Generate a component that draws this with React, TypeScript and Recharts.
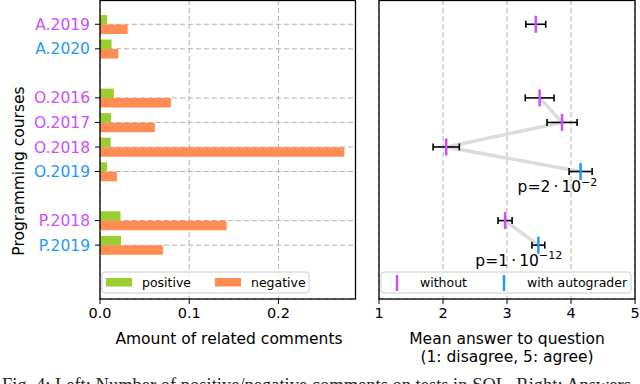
import {
  BarChart, Bar, ComposedChart, Line, ErrorBar, XAxis, YAxis, CartesianGrid
} from 'recharts'

const FONT = '"DejaVu Sans", Verdana, sans-serif'
const WITHOUT = '#cf4dff'
const WITH = '#1e98ff'
const GREEN = '#9acd32'
const ORANGE = '#ff8c52'
const GRID = '#b0b0b0'

// rows of both panels; gap rows only add space between course families
const courses = ['A.2019', 'A.2020', 'gap1', 'O.2016', 'O.2017', 'O.2018', 'O.2019', 'gap2', 'P.2018', 'P.2019']
const autograder = [false, true, null, false, false, false, true, null, false, true]
const positive = [0.008, 0.013, null, 0.0155, 0.0125, 0.012, 0.008, null, 0.023, 0.0235]
const negative = [0.031, 0.0205, null, 0.0795, 0.0615, 0.274, 0.019, null, 0.142, 0.0705]
const meanAnswer = [3.45, null, null, 3.51, 3.86, 2.05, 4.15, null, 2.97, 3.49]
const errHalf = [0.155, null, null, 0.225, 0.235, 0.205, 0.18, null, 0.11, 0.1]
const pValue = [null, null, null, null, null, null, ['2', '−2'], null, null, ['1', '−12']]
const commentTicks = [0, 0.1, 0.2]
const answerTicks = [1, 2, 3, 4, 5]

const labeled = courses.filter(c => !c.startsWith('gap'))

const rows = courses.map((course, i) => ({
  course,
  autograder: autograder[i],
  positive: positive[i],
  negative: negative[i],
  mean: meanAnswer[i],
  // the grey trend lines only join years of the same course
  trendO: course.startsWith('O.') ? meanAnswer[i] : null,
  trendP: course.startsWith('P.') ? meanAnswer[i] : null,
  err: errHalf[i] ?? undefined,
  p: pValue[i],
}))

const catPadding = { top: 12, bottom: 41.6 }

function CourseTick({ x, y, payload }: any) {
  const row = rows.find(r => r.course === payload.value)
  return (
    <text x={x} y={y} dy="0.36em" textAnchor="end" fontSize={15.5} fontFamily={FONT}
      fill={row?.autograder ? WITH : WITHOUT}>
      {payload.value}
    </text>
  )
}

const renderMarker = (props: any) => {
  const { cx, cy, payload, index } = props
  if (cx == null || cy == null || payload.mean == null) return <g key={index} />
  const color = payload.autograder ? WITH : WITHOUT
  return (
    <g key={index}>
      <line x1={cx} x2={cx} y1={cy - 8.5} y2={cy + 8.5} stroke={color} strokeWidth={2.5} />
      {payload.p && (
        <text x={cx - 63} y={cy + 20.5} fontSize={15.5} fontFamily={FONT} fill="#000">
          p={payload.p[0]}{'\u2009·\u2009'}10
          <tspan dy={-6.5} fontSize={11}>{payload.p[1]}</tspan>
        </text>
      )}
    </g>
  )
}

const tickStyle = { fontSize: 14.5, fontFamily: FONT, fill: '#000' }

export default function App() {
  return (
    <div style={{ position: 'absolute', left: 0, top: 0, width: 640, height: 384, background: '#fff', overflow: 'hidden' }}>
      <div style={{ position: 'absolute', left: 0, top: 0 }}>
        <BarChart width={360} height={384} data={rows} layout="vertical" barGap={0}
          margin={{ top: 0, right: 4.5, bottom: 0, left: 0 }}>
          <CartesianGrid stroke={GRID} strokeDasharray="5 3" />
          <XAxis type="number" domain={[0, 0.2864]} ticks={commentTicks} allowDataOverflow
            tickFormatter={v => v.toFixed(1)} height={85} axisLine={false}
            tickSize={5} tickMargin={4} tickLine={{ stroke: '#000' }} tick={tickStyle} />
          <YAxis type="category" dataKey="course" ticks={labeled} width={100} padding={catPadding}
            axisLine={false} tickSize={5} tickMargin={5} tickLine={{ stroke: '#000' }}
            tick={<CourseTick />} interval={0} />
          <Bar dataKey="positive" fill={GREEN} barSize={9.5} isAnimationActive={false} />
          <Bar dataKey="negative" fill={ORANGE} barSize={9.5} isAnimationActive={false} />
        </BarChart>
      </div>

      <div style={{ position: 'absolute', left: 360, top: 0 }}>
        <ComposedChart width={280} height={384} data={rows} layout="vertical"
          margin={{ top: 0, right: 5, bottom: 0, left: 0 }}>
          <CartesianGrid stroke={GRID} strokeDasharray="5 3" />
          <XAxis type="number" domain={[1, 5]} ticks={answerTicks} allowDataOverflow height={85}
            axisLine={false} tickSize={5} tickMargin={4} tickLine={{ stroke: '#000' }} tick={tickStyle} />
          <YAxis type="category" scale="band" dataKey="course" ticks={labeled} width={19} padding={catPadding}
            axisLine={false} tickSize={5} tick={false} tickLine={{ stroke: '#000' }} interval={0} />
          <Line dataKey="trendO" stroke="#dcdcdc" strokeWidth={3.5} dot={false} activeDot={false}
            isAnimationActive={false} />
          <Line dataKey="trendP" stroke="#dcdcdc" strokeWidth={3.5} dot={false} activeDot={false}
            isAnimationActive={false} />
          <Line dataKey="mean" stroke="none" dot={renderMarker} activeDot={false} isAnimationActive={false}>
            <ErrorBar dataKey="err" direction="x" width={3.5} stroke="#000" strokeWidth={1.6} />
          </Line>
        </ComposedChart>
      </div>

      <svg width={640} height={384} style={{ position: 'absolute', left: 0, top: 0, pointerEvents: 'none' }}
        fontFamily={FONT}>
        <rect x={100} y={0.5} width={255.5} height={298.5} fill="none" stroke="#000" strokeWidth={1.3} />
        <rect x={379} y={0.5} width={256} height={298.5} fill="none" stroke="#000" strokeWidth={1.3} />

        <rect x={102} y={272} width={207} height={21} rx={3} fill="#fff" fillOpacity={0.8} stroke="#cccccc" />
        <rect x={106} y={278} width={26} height={8.5} fill={GREEN} />
        <text x={142} y={282.5} dominantBaseline="central" fontSize={12.5}>positive</text>
        <rect x={215} y={278} width={26} height={8.5} fill={ORANGE} />
        <text x={251} y={282.5} dominantBaseline="central" fontSize={12.5}>negative</text>

        <rect x={381} y={272} width={250} height={21} rx={3} fill="#fff" fillOpacity={0.8} stroke="#cccccc" />
        <line x1={397} x2={397} y1={275} y2={291} stroke={WITHOUT} strokeWidth={2.5} />
        <text x={420} y={282.5} dominantBaseline="central" fontSize={12.5}>without</text>
        <line x1={504} x2={504} y1={275} y2={291} stroke={WITH} strokeWidth={2.5} />
        <text x={527} y={282.5} dominantBaseline="central" fontSize={12.5}>with autograder</text>

        <text x={229} y={344} textAnchor="middle" fontSize={15.5}>Amount of related comments</text>
        <text x={507} y={344} textAnchor="middle" fontSize={15.5}>Mean answer to question</text>
        <text x={507} y={362} textAnchor="middle" fontSize={15.5}>(1: disagree, 5: agree)</text>
        <text transform="translate(19,171) rotate(-90)" textAnchor="middle" dominantBaseline="central"
          fontSize={15.5}>Programming courses</text>

        <text x={2} y={390.5} fontSize={18.5} fill="#222"
          fontFamily='"Liberation Serif", "Times New Roman", serif'>
          Fig. 4: Left: Number of positive/negative comments on tests in SQL. Right: Answers
        </text>
      </svg>
    </div>
  )
}
